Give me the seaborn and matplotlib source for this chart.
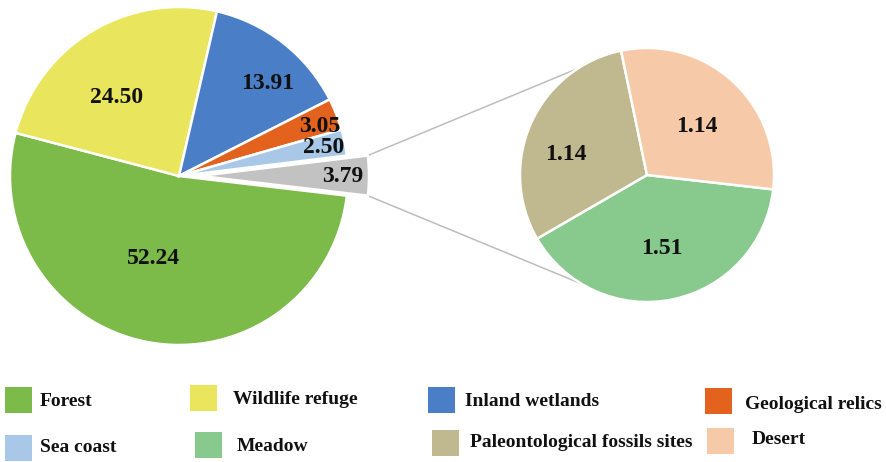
import numpy as np
import matplotlib
matplotlib.use("Agg")
import matplotlib.pyplot as plt
from matplotlib.patches import Rectangle
import seaborn as sns

# Share of nature reserve area by type (%)
main_labels = ["Forest", "Wildlife refuge", "Inland wetlands",
               "Geological relics", "Sea coast", "Other"]
main_values = [52.24, 24.50, 13.91, 3.05, 2.50, 3.79]

# Breakdown of the "Other" slice
sub_labels = ["Meadow", "Paleontological fossils sites", "Desert"]
sub_values = [1.51, 1.14, 1.14]

legend_labels = ["Forest", "Wildlife refuge", "Inland wetlands", "Geological relics",
                 "Sea coast", "Meadow", "Paleontological fossils sites", "Desert"]

sns.set_theme(style="white")
plt.rcParams["font.family"] = ["Liberation Serif", "DejaVu Serif"]

main_colors = ["#7cba4a", "#e9e55c", "#4a7ec6", "#e2621e", "#a9c8e8", "#c2c2c2"]
sub_colors = ["#88c98e", "#c0b88e", "#f6caa8"]
legend_colors = {
    "Forest": main_colors[0], "Wildlife refuge": main_colors[1],
    "Inland wetlands": main_colors[2], "Geological relics": main_colors[3],
    "Sea coast": main_colors[4], "Meadow": sub_colors[0],
    "Paleontological fossils sites": sub_colors[1], "Desert": sub_colors[2],
}

W, H = 887, 462
fig = plt.figure(figsize=(W / 100, H / 100), dpi=100)
ax = fig.add_axes([0, 0, 1, 1])

# work in pixel-like units, y pointing up
c1, r1 = (179, H - 176), 169
c2, r2 = (647, H - 175), 127

wprops = dict(edgecolor="white", linewidth=1.8)
w1, _ = ax.pie(main_values, colors=main_colors, startangle=-6.7, counterclock=False,
               radius=r1, center=c1, explode=[0, 0, 0, 0, 0, 21],
               wedgeprops=wprops, normalize=True)
w2, _ = ax.pie(sub_values, colors=sub_colors, startangle=-6.5, counterclock=False,
               radius=r2, center=c2, wedgeprops=wprops, normalize=True)

lbl_font = dict(fontsize=17, fontweight="bold", color="#111111",
                ha="center", va="center")

# label placement (angle in degrees, fraction of radius) around each pie centre
main_lbl_pos = [(252.6, 0.51), (128.5, 0.59), (46.3, 0.76),
                (19.3, 0.88), (11.0, 0.87), (-0.3, 0.97)]
sub_lbl_pos = [(-78.5, 0.59), (165.6, 0.66), (44.4, 0.55)]

for v, (a, f) in zip(main_values, main_lbl_pos):
    t = np.deg2rad(a)
    ax.text(c1[0] + f * r1 * np.cos(t), c1[1] + f * r1 * np.sin(t),
            f"{v:.2f}", **lbl_font)
for v, (a, f) in zip(sub_values, sub_lbl_pos):
    t = np.deg2rad(a)
    ax.text(c2[0] + f * r2 * np.cos(t), c2[1] + f * r2 * np.sin(t),
            f"{v:.2f}", **lbl_font)

# connector lines from the exploded slice to the breakdown pie
gw = w1[-1]
gx, gy = gw.center
for ang_main, ang_sub in [(gw.theta2, 123.0), (gw.theta1, -121.0)]:
    tm, ts = np.deg2rad(ang_main), np.deg2rad(ang_sub)
    ax.plot([gx + gw.r * np.cos(tm), c2[0] + r2 * np.cos(ts)],
            [gy + gw.r * np.sin(tm), c2[1] + r2 * np.sin(ts)],
            color="#bdbdbd", lw=1.1, zorder=0)

# legend laid out in a 2 x 4 grid: patch (left, top) and text (left, centre y)
legend_layout = [
    ((5, 387), (40, 402)), ((190, 385), (233, 400)),
    ((428, 387), (465, 402)), ((705, 388), (745, 405)),
    ((5, 435), (40, 448)), ((195, 432), (237, 447)),
    ((432, 430), (470, 443)), ((707, 428), (752, 440)),
]
for name, ((px, py), (tx, ty)) in zip(legend_labels, legend_layout):
    ax.add_patch(Rectangle((px, H - py - 26), 27, 26, facecolor=legend_colors[name],
                           edgecolor="none", clip_on=False))
    ax.text(tx, H - ty, name, fontsize=14, fontweight="bold", color="#111111",
            ha="left", va="center")

ax.set_xlim(0, W)
ax.set_ylim(0, H)
ax.set_aspect("equal")
ax.axis("off")

fig.savefig("out.png", dpi=100, facecolor="white")
